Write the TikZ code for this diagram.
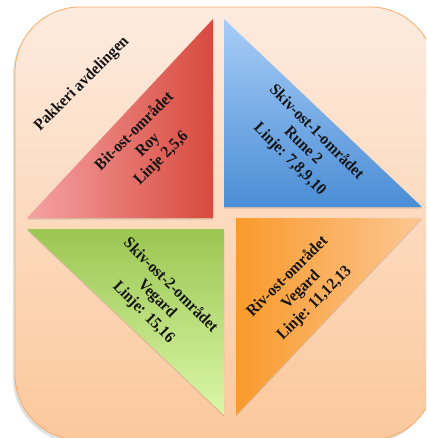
\documentclass[tikz,border=0pt]{standalone}
\usepackage{fontspec}
\setmainfont{Liberation Serif}[FakeStretch=0.94]
\definecolor{panelTop}{HTML}{FDEBDF}
\definecolor{panelBot}{HTML}{FBC89C}
\definecolor{panelEdge}{HTML}{F5AA68}
\definecolor{redL}{HTML}{F4A2A2}
\definecolor{redR}{HTML}{D84A3E}
\definecolor{blueT}{HTML}{A8CDF7}
\definecolor{blueB}{HTML}{4A8DD5}
\definecolor{greenT}{HTML}{9BC652}
\definecolor{greenB}{HTML}{DBF7A8}
\definecolor{orangeL}{HTML}{F99A2B}
\definecolor{orangeR}{HTML}{FCC794}
\begin{document}
\begin{tikzpicture}[x=1pt,y=-1pt,
  areatext/.style={font=\bfseries\fontsize{16.3}{19}\selectfont,
    align=center, inner sep=0pt, text=black!92},
  dropshade/.style={fill=black, opacity=0.12}]
\useasboundingbox (0,0) rectangle (426,438);
\begin{scope}
  \clip (0,0) rectangle (426,438);
  % soft shadow and the rounded panel
  \path[dropshade, rounded corners=65pt] (13,10) rectangle (433,443);
  \draw[draw=panelEdge, line width=0.8pt, top color=panelTop, bottom color=panelBot,
    rounded corners=65pt] (15,7) rectangle (435,440);
\end{scope}
% shadows under the four triangles
\path[dropshade] (27,219.5) -- (213,20.5) -- (213,219.5) -- cycle;
\path[dropshade] (224,20.5) -- (224,208.5) -- (422,208.5) -- cycle;
\path[dropshade] (27,230.5) -- (224,230.5) -- (224,416.5) -- cycle;
\path[dropshade] (236,219.5) -- (422,219.5) -- (236,416.5) -- cycle;
% the four area triangles
\path[left color=redL, right color=redR] (27,218) -- (213,19) -- (213,218) -- cycle;
\path[top color=blueT, bottom color=blueB] (224,19) -- (224,207) -- (422,207) -- cycle;
\path[top color=greenT, bottom color=greenB] (27,229) -- (224,229) -- (224,415) -- cycle;
\path[left color=orangeL, right color=orangeR] (236,218) -- (422,218) -- (236,415) -- cycle;
% labels
\node[areatext, rotate=45] (dept) at (82,84) {Pakkeri avdelingen};
\node[areatext, rotate=45] (bit) at (148,145) {Bit-ost-området\\Roy\\Linje 2,5,6};
\node[areatext, rotate=-45] (skiv1) at (303,146) {Skiv-ost-1-området\\Rune 2\\Linje: 7,8,9,10};
\node[areatext, rotate=-45] (skiv2) at (157,299) {Skiv-ost-2-området\\Vegard\\Linje: 15,16};
\node[areatext, rotate=45] (riv) at (301,290) {Riv-ost-området\\Vegard\\Linje: 11,12,13};
\end{tikzpicture}
\end{document}
